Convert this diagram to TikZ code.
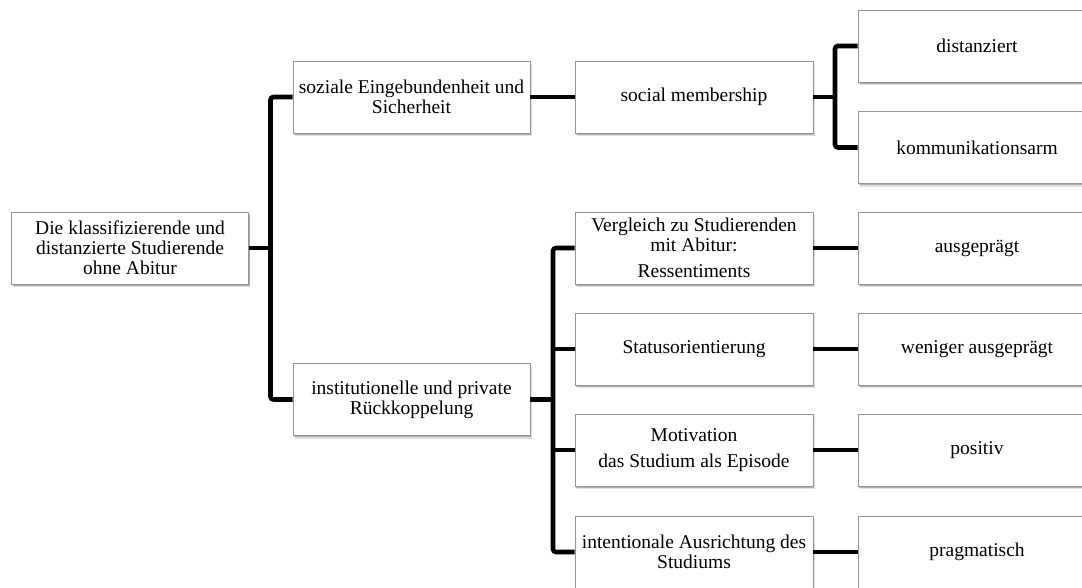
\documentclass[tikz,border=0pt]{standalone}
\usepackage{fontspec}
\setmainfont{Liberation Serif}
\usetikzlibrary{shadows}
\begin{document}
\begin{tikzpicture}[x=1pt,y=-1pt]
\tikzset{
  box/.style={draw=black!42, line width=0.9pt, fill=white,
    minimum width=237pt, minimum height=72pt, inner sep=1pt, align=center,
    font=\fontsize{19.5}{20}\selectfont,
    drop shadow={shadow xshift=1.8pt, shadow yshift=-3.2pt, fill=black, opacity=0.12},
    drop shadow={shadow xshift=1.0pt, shadow yshift=-1.8pt, fill=black, opacity=0.22}},
  link/.style={line width=4.6pt, rounded corners=3pt}
}
\clip (0,0) rectangle (1082,587);
\fill[white] (0,0) rectangle (1082,587);

% level 0
\node[box] (root) at (130,248) {Die klassifizierende und\\distanzierte Studierende\\ohne Abitur};
% level 1
\node[box] (soc)  at (411.5,97)  {soziale Eingebundenheit und\\Sicherheit};
\node[box] (inst) at (411.5,399.5) {institutionelle und private\\Rückkoppelung};
% level 2
\node[box, minimum width=238pt] (sm)   at (694,97)  {social membership};
\node[box, minimum width=238pt] (verg) at (694,248) {Vergleich zu Studierenden\\mit Abitur:\\[6pt]Ressentiments};
\node[box, minimum width=238pt] (stat) at (694,349) {Statusorientierung};
\node[box, minimum width=238pt] (mot)  at (694,450) {Motivation\\[6pt]das Studium als Episode};
\node[box, minimum width=238pt] (int)  at (694,552) {intentionale Ausrichtung des\\Studiums};
% level 3
\node[box, minimum width=238pt] (dist) at (977,46)    {distanziert};
\node[box, minimum width=238pt] (komm) at (977,147.5) {kommunikationsarm};
\node[box, minimum width=238pt] (ausg) at (977,248)   {ausgeprägt};
\node[box, minimum width=238pt] (wen)  at (977,349)   {weniger ausgeprägt};
\node[box, minimum width=238pt] (pos)  at (977,450)   {positiv};
\node[box, minimum width=238pt] (prag) at (977,552)   {pragmatisch};

% branch lines
\coordinate (b1) at (270.5,0);
\coordinate (b2) at (835,0);
\coordinate (b3) at (553,0);

\draw[link] (soc.west) -- (soc.west -| b1) |- (inst.west);
\draw[link] (root.east) -- (root.east -| b1);

\draw[link] (soc.east) -- (sm.west);
\draw[link] (dist.west) -- (dist.west -| b2) |- (komm.west);
\draw[link] (sm.east) -- (sm.east -| b2);

\draw[link] (verg.west) -- (verg.west -| b3) |- (int.west);
\draw[link] (stat.west) -- (stat.west -| b3);
\draw[link] (mot.west) -- (mot.west -| b3);
\draw[link] (inst.east) -- (inst.east -| b3);

\draw[link] (verg.east) -- (ausg.west);
\draw[link] (stat.east) -- (wen.west);
\draw[link] (mot.east) -- (pos.west);
\draw[link] (int.east) -- (prag.west);
\end{tikzpicture}
\end{document}
